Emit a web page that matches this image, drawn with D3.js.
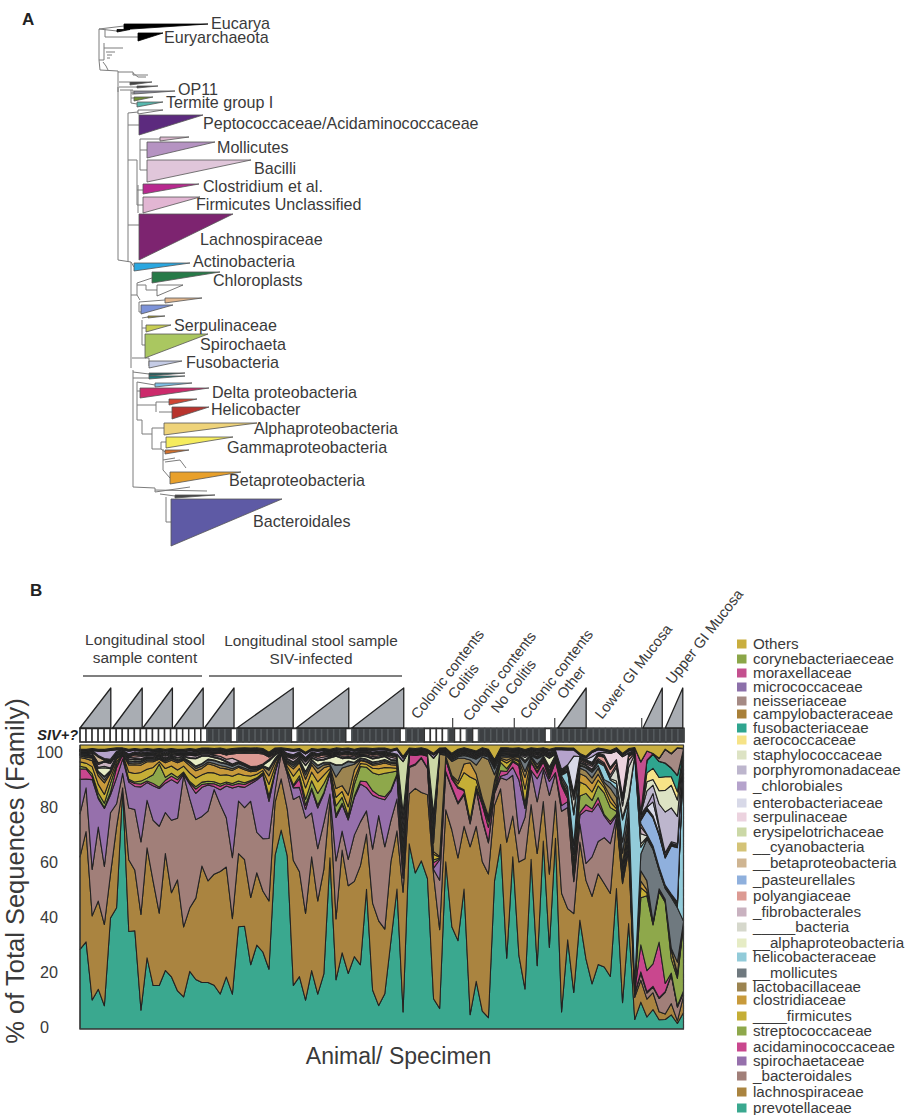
<!DOCTYPE html>
<html><head><meta charset="utf-8">
<style>html,body{margin:0;padding:0;background:#fff}svg{display:block}text{font-family:"Liberation Sans",Arial,sans-serif;fill:#3a3a3a}</style>
<script src="https://cdn.jsdelivr.net/npm/d3@7"></script></head><body><script>
// ---------- Panel B data: % of total sequences per sample, bottom of the stack first
const prevotellaceae=[27.6,30,10,14,8,38,42,83,34,34,
6.5,24,15,15,20,18,13,11,20,17,
16,16,15,12,18,12,35,35.5,22,29,
26.5,21,59,70,59,15,18,10,20,12,
19,59,17,26,19,25,22,48,13,8,
12,30,48,6,63,53.5,59,52,11,7,
58,37,31,49,5,16,6.5,4,51,66.5,
25,63.5,26,13.5,62,22,66.5,29,69,6,
30,12,39,25,16,22,23,19,51,9.5,
29,3,8,4,7,3.5,3.5,5,2,5];
const lachnospiraceae=[32,38,29,31,28,15,28,.3,25,21,
33,37,36,25,40,29,38,24,22,28,
40,35,38,42,38,26,25,23,23,25,
21,24,18,18,16,43,36,30,39,32,
36,20,21,35,30,26,34,19,29,29,
22,27,20,42,17,29,24,29,45,27,
18,35,29,22,59,52,54,51,26,20,
41,15,33,44,20,39,14,26,13.5,42,
10.5,26,28,28,31,31,31,30,25,43,
20,7,6.5,6,6,3,2,4,1,5];
const bacteroidales=[15,15,16,26,20,21,8,5,18,21,
25,16,21,30,14,25,21,52,38,27,
17,24,29,23,17,21,18,18,33,14,
18,22,4,9,12,21,26,33,15,18,
16,2,20,6.5,9,16,15,8,18,36,
28,14,11,5,9,8,12,9,2,17,
13,15,19,11,8,12,15,11,4,4,
22,15,10,14,12,18,11,28,10,29,
34,10.5,6.5,6,14,11,17,18,1,1,
1,1,2,2,2,5,8,10,5,1];
const spirochaetaceae=[12,3,31,10,20,6,9,5,9,8,
19,6,12,13,10,14,12,.3,5,9,
10,9,1,5,11,24,5,7,6,18,
22,13,6,.5,1,4,3,3,8,14,
10,7,15,9,13.5,13,13,8,18,6,
16,10,8,1,.3,.3,.3,.3,.5,7,
.3,.5,.5,.5,.5,.5,.5,.5,.5,.5,
2,3,19,3,.5,8,1,5,.3,2,
2,.5,3,19,16,13,8,7,.5,.5,
.5,.3,.5,.5,.3,.3,.3,.3,.3,.3];
const acidaminococcaceae=[3.5,3.5,1,.5,.3,1,3.5,1.5,.5,1,
1,.5,.8,.5,1,1.2,1.2,.3,.5,1.5,
1,.5,1,1.2,.8,1,1,1,.7,.5,
.5,1.5,.4,.1,.3,.5,3,1.5,.5,1,
.5,.2,1,.5,.5,.5,1,2,1.5,1,
1,.5,.5,2,4,3,1,4,2,.3,
4,3,5,1,.5,.5,5,5,.5,2,
1,2,5,1,3,2,2,1,4,7,
1,.5,1,2,1,2,.5,1,.5,.5,
1,.5,8,7,8,21,3,.5,.3,.3];
const streptococcaceae=[1,.5,1,1.5,1.5,3,1,.1,.5,.5,
1,1,3,8,1,1,.8,.5,.5,.8,
.8,.8,.7,.8,.6,.6,.8,.6,.4,.3,
.2,.5,.2,.05,.2,.5,1,2,2.5,4,
3,.5,3,2,1,4,5,5,6,7,
8,6,1,2,.1,.1,.1,.1,1,.3,
.3,.3,.5,.3,.5,.5,.5,2,.5,3,
1,.5,.5,.5,.3,.5,.5,.5,.5,.5,
1,1,6,4,3,4,8,5,1,1,
2,.5,14,25,14,19,30,5,10,20];
const firmicutes=[1.5,1.5,2.5,3,3,2,1,.1,2.5,3,
3,3,2.5,.8,3,2.5,2.5,2,3,3,
2.5,3,3,3,2.5,2.5,2.5,2.5,1.5,1.2,
.8,4,1.5,.05,1,3,2.5,4,3,4,
3,1,3,2,3,2,1,1,1.5,2,
2,1.5,1,2,.1,.1,.1,.1,2,.3,
.5,.5,1,6,15,2,1,1,2,1,
2,.5,1,5,1,1,.5,1,.5,.5,
.5,2,5,3,3,2,2,2,1,2,
2,.5,3,1,.3,.3,.3,3,1,.3];
const clostridiaceae=[1.5,1.5,2,3,4,1.5,1,.1,2.5,3,
2.5,2.5,2,.8,2,2,2.5,2,2.5,2.5,
2.2,3,2.5,2.5,2,2,2.2,2,1.5,1.2,
1,3,1.5,.05,1,2.5,2,3,2.5,3,
2.5,1,3,2,4,3,1,.8,1,1.5,
1.5,1,1,2,.1,.1,.1,.1,1,.3,
.5,.5,1,3,5,2,1,1,1,.5,
1,.5,.5,4,.5,.5,.5,.5,.5,.5,
.5,2,3,3,3,2,1,2,1,2,
2,.5,2,1,.3,.3,.3,.3,1,.3];
const lactobacillaceae=[.5,.5,1,1,1,.5,.3,.1,.5,.7,
.7,.5,.5,.3,.5,.5,.5,.4,.8,.8,
.8,.6,.7,.8,.7,.6,.5,.5,.4,.4,
.3,2,.8,.05,.5,.8,.5,1.5,.8,1.5,
1,.5,4,6,10,2,.3,.3,.4,.5,
.5,.5,.5,2,.1,.1,.1,.1,3,35,
.3,5,8,2,1,3,15,20,2,.5,
1,.3,1,2,.3,1,.3,1,.3,1,
1,3,2,2,2,2,1,3,3,4,
2,.5,3,3,.5,.5,.5,.5,4,.3];
const mollicutes=[.2,.2,.3,.5,1,.3,.2,.1,.5,.5,
.5,.5,.4,.3,.4,.4,.4,.3,.5,.6,
.7,.8,1,1,1,.8,.8,.8,.5,.3,
.2,.5,.3,.05,.3,.6,.5,1,.8,1,
.7,.5,4,1,1.5,.5,.5,.5,.5,.5,
.5,.3,.3,3,.1,.1,.1,.1,3,.3,
.3,.5,.5,1,1,2,.5,1,2,.5,
.5,.3,.5,3,.3,2,.3,1,.3,1,
1,3,1,1,2,1,1,2,3,4,
3,.5,5,14,26,7,4,18,20,.3];
const helicobacteraceae=[.2,.2,.2,.2,.2,.2,.2,.1,.2,.2,
.2,.2,.2,.2,.2,.2,.2,.2,.2,.2,
.2,.2,.2,.2,.2,.2,.2,.2,.2,.2,
.2,.2,.2,.05,.2,.2,.2,.2,.2,.2,
.2,.2,.2,.2,.2,.2,.2,.2,.2,.2,
.2,.2,.2,.2,.1,.1,.1,.1,.2,.1,
.2,.2,.2,.2,.2,.2,.2,.2,.2,.2,
.2,.2,.2,.2,.2,.2,.2,.2,.2,.2,
5,10,.3,.3,.3,1,5,1,2,8,
.5,72,2,.3,.2,.2,.2,.2,.3,50];
const alphaproteobacteria=[0,.2,.3,1,3,.5,.2,.1,.5,.5,
.5,.3,.3,.3,.3,.2,.5,.3,1,2.5,
2.5,1,.8,1,.5,.3,.2,.2,.2,.2,
.1,2.5,1,.05,.5,.5,.5,2,.5,1.5,
.8,1.5,3,2,1,1,.5,.8,1,1,
1,.5,.5,3,.1,.1,.1,.1,2,.1,
.1,.3,.3,.3,.3,.3,.3,.3,.5,.3,
.3,.3,.3,.5,.3,.3,.3,3,.3,.3,
.3,1,.5,.5,.5,.5,.5,.5,1,1,
1,.3,1,.3,.2,.2,.2,.2,.5,.2];
const bacteria=[.3,.3,.3,.3,.5,.3,.3,.1,.3,.3,
.3,.3,.3,.3,.3,.3,.3,.3,.3,.3,
.3,.3,.3,.3,.3,.3,.3,.3,.3,.3,
.3,.3,.3,.05,.3,.3,.3,.3,.3,.3,
.3,.3,.3,.3,.3,.3,.3,.3,.3,.3,
.3,.3,.3,2,.1,.1,.1,.1,2,.1,
.2,.2,.2,.2,.2,.2,.2,.2,.3,.2,
.2,.2,.2,1,.2,.3,.2,.3,.2,.3,
.3,4,.3,.3,.3,.3,.3,.3,5,4,
8,.3,3,.5,.5,.5,.5,.5,.5,.2];
const fibrobacterales=[0,.2,.5,1,1.5,1.5,.3,.1,.5,.5,
.8,.3,.4,.3,.6,.4,.6,.3,.8,.7,
.5,.5,.5,.7,.6,2,.3,.2,.2,.2,
.1,.3,.2,.05,.5,1,.4,1,.5,.6,
.7,.4,.4,.5,.5,.5,.3,.3,.5,.5,
.3,.8,.5,2,.1,.1,.1,.1,2,.1,
.1,.1,.3,.3,.3,.3,.3,.3,.3,.3,
.3,.3,.3,.5,.3,.5,.3,.5,.3,.3,
.5,1,.5,.5,1,.5,.5,1,1,2,
2,.3,2,.3,.2,.2,.2,.2,.5,.2];
const polyangiaceae=[0,0,0,.5,.2,.5,.2,.1,.3,.8,
.3,.2,.1,.1,.1,.1,.1,.1,.2,.3,
.2,.2,.5,1,1.5,1.5,2.5,3.5,4.5,4.5,
3.5,.8,.3,.05,.2,.5,.3,.5,.3,.6,
.8,.3,.2,.5,.5,.5,.3,.5,.5,.5,
.3,.5,.5,1,.1,.1,.1,.1,1,.1,
.1,.1,.1,.1,.2,.2,.2,.2,.2,.2,
.2,.2,.2,.3,.2,.3,.2,.3,.2,.2,
.3,.5,.5,.5,.5,1,2,2,1,1,
1,.2,1,.2,.1,.1,.1,.1,.3,.1];
const pasteurellales=[.1,.1,.1,.1,.1,.1,.1,.05,.1,.1,
.1,.1,.1,.1,.1,.1,.1,.1,.1,.1,
.1,.1,.1,.1,.1,.1,.1,.1,.1,.1,
.1,.1,.1,.05,.1,.1,.1,.1,.1,.1,
.1,.1,.1,.1,.1,.1,.1,.1,.1,.1,
.1,.1,.1,.1,.1,.1,.1,.1,.1,.1,
.1,.1,.1,.1,.1,.1,.1,.1,.1,.1,
.1,.1,.1,.1,.1,.1,.1,.1,.1,.1,
.1,.1,.1,.1,.1,.1,.1,.1,.1,.1,
.1,.1,1,8,10,12,10,17,20,.3];
const betaproteobacteria=[.3,.3,.3,2,.3,.3,.3,.1,.3,.3,
.3,.3,.3,.3,.3,.3,.3,.3,.3,.3,
.3,.3,.3,.3,.3,.3,.3,.3,.3,.3,
.3,.3,.3,.05,.3,.3,.3,.3,.3,.3,
.3,.3,.3,.3,.3,.3,.3,.3,.3,.3,
.3,.3,.3,.3,.1,.1,.1,.1,.3,.1,
.2,.2,.2,.2,.2,.2,.2,.2,.3,.2,
.2,.2,.2,.3,.2,.3,.2,.3,.2,.3,
.3,.3,.3,.3,.3,.3,.3,.3,.3,.3,
.3,.2,.3,.3,.3,.3,.3,.3,.3,.2];
const cyanobacteria=[.3,.3,.3,.3,.3,.3,.3,.1,.3,.3,
.3,.3,.3,.3,.3,.3,.3,.3,.3,.3,
.3,.3,.3,.3,.3,.3,.3,.3,.3,.3,
.3,.3,.3,.05,.3,.3,.3,.3,.3,.3,
.3,.3,.3,.3,.3,.3,.3,.3,.3,.3,
.3,.3,.3,.3,.1,.1,.1,.1,.3,.1,
.2,.2,.2,.2,.2,.2,.2,.2,.3,.2,
.2,.2,.2,.3,.2,.3,.2,.3,.2,.3,
.3,.3,.3,.3,.3,.3,.3,.3,.3,.3,
.3,.2,.3,.3,.3,.3,.3,.3,.3,.2];
const erysipelotrichaceae=[.1,.1,.1,.1,.1,.1,.1,.1,.1,.1,
.1,.1,.1,.1,.1,.1,.1,.1,.1,.1,
.1,.1,.1,.1,.1,.1,.1,.1,.1,.1,
.1,.1,.1,.05,.1,.1,.1,.1,.1,.1,
.1,.1,.1,.1,.1,.1,.1,.1,.1,.1,
.1,.1,.1,18,.1,.1,.1,.1,20,.1,
.1,.1,.1,.1,.1,.1,.1,.1,.1,.1,
.1,.1,.1,.1,.1,.1,.1,.1,.1,.1,
.1,.1,.1,.1,.1,.1,.1,.1,.1,.1,
.1,.1,.1,.1,.1,.1,.1,.1,.1,.1];
const serpulinaceae=[.1,.1,.1,.1,.1,.1,.1,.1,.1,.1,
.1,.1,.1,.1,.1,.1,.1,.1,.1,.1,
.1,.1,.1,.1,.1,.1,.1,.1,.1,.1,
.1,.1,.1,.05,.1,.1,.1,.1,.1,.1,
.1,.1,.1,.1,.1,.1,.1,.1,.1,.1,
.1,.1,.1,.1,.1,.1,.1,.1,.1,.1,
.1,.1,.1,.1,.1,.1,.1,.1,.1,.1,
.1,.1,.1,.1,.1,.1,.1,.1,.1,.1,
.1,.1,.1,.1,.1,.1,1,5,3,14,
.1,.1,.1,.1,.1,.1,.1,.1,.1,.1];
const enterobacteriaceae=[.1,.1,.1,.1,.1,.1,.1,.1,.1,.1,
.1,.1,.1,.1,.1,.1,.1,.1,.1,.1,
.1,.1,.1,.1,.1,.1,.1,.1,.1,.1,
.1,.1,.1,.05,.1,.1,.1,.1,.1,.1,
.1,.1,.1,.1,.1,.1,.1,.1,.1,.1,
.1,.1,.1,.1,.1,.1,.1,.1,.1,.1,
.1,.1,.1,.1,.1,.1,.1,.1,.1,.1,
.1,.1,.1,.1,.1,.1,.1,.1,.1,.1,
.1,12,.1,.1,2,.1,.1,.1,.1,.1,
.1,.1,.5,.2,5,2,.2,.2,.2,.1];
const chlorobiales=[0,0,0,1.5,2.5,3,.5,.1,1,.5,
.5,.5,.4,.3,.5,.3,.3,.2,.5,.3,
.2,.2,.2,.2,.3,.2,.2,.2,.2,.2,
.2,.1,.1,.05,1,1.2,.5,1.2,.5,.8,
.5,.3,.3,.5,.5,.5,.3,.3,.5,.5,
.4,.5,1.5,1,.1,.1,.1,.1,1,.1,
.1,.1,.1,.1,.1,.1,.1,.1,.1,.1,
.2,.2,.2,.3,.2,.3,.2,.5,.2,7,
5,2,.5,.5,1.5,1,.5,.3,.5,.5,
.5,.2,.5,.5,3,1,1,.5,.5,.2];
const porphyromonadaceae=[.1,.1,.1,.1,.1,.1,.1,.1,.1,.1,
.1,.1,.1,.1,.1,.1,.1,.1,.1,.1,
.1,.1,.1,.1,.1,.1,.1,.1,.1,.1,
.1,.1,.1,.05,.1,.1,.1,.1,.1,.1,
.1,.1,.1,.1,.1,.1,.1,.1,.1,.1,
.1,.1,.1,.1,.1,.1,.1,.1,.1,.1,
.1,.1,.1,.1,.1,.1,.1,.1,.1,.1,
.1,.1,.1,.1,.1,.1,.1,.1,.1,.1,
.1,.1,.1,.1,.1,.1,.1,.1,.1,.1,
.1,.1,.1,5,3,8,15,12,10,.1];
const staphylococcaceae=[.1,.1,.1,.1,.1,.1,.1,.1,.1,.1,
.1,.1,.1,.1,.1,.1,.1,.1,.1,.1,
.1,.1,.1,.1,.1,.1,.1,.1,.1,.1,
.1,.1,.1,.05,.1,.1,.1,.1,.1,.1,
.1,.1,.1,.1,.1,.1,.1,.1,.1,.1,
.1,.1,.1,.1,.1,.1,.1,.1,.1,.1,
.1,.1,.1,.1,.1,.1,.1,.1,.1,.1,
.1,.1,.1,.1,.1,.1,.1,.1,.1,.1,
.1,.1,.1,.1,.1,.1,.1,.1,.1,.1,
.1,.1,.1,3,2,5,8,8,6,.1];
const aerococcaceae=[.05,.05,.05,.05,.05,.05,.05,.05,.05,.05,
.05,.05,.05,.05,.05,.05,.05,.05,.05,.05,
.05,.05,.05,.05,.05,.05,.05,.05,.05,.05,
.05,.05,.05,.05,.05,.05,.05,.05,.05,.05,
.05,.05,.05,.05,.05,.05,.05,.05,.05,.05,
.05,.05,.05,.05,.05,.05,.05,.05,.05,.05,
.05,.05,.05,.05,.05,.05,.05,.05,.05,.05,
.05,.05,.05,.05,.05,.05,.05,.05,.05,.05,
.05,.05,.05,.05,.05,.05,.05,.05,.05,.05,
.05,.05,.05,3,4,5,5,3,3,.05];
const fusobacteriaceae=[.05,.05,.05,.05,.05,.05,.05,.05,.05,.05,
.05,.05,.05,.05,.05,.05,.05,.05,.05,.05,
.05,.05,.05,.05,.05,.05,.05,.05,.05,.05,
.05,.05,.05,.05,.05,.05,.05,.05,.05,.05,
.05,.05,.05,.05,.05,.05,.05,.05,.05,.05,
.05,.05,.05,.05,.05,.05,.05,.05,.05,.05,
.05,.05,.05,.05,.05,.05,.05,.05,.05,.05,
.05,.05,.05,.05,.05,.05,.05,.05,.05,.05,
.05,.05,.05,.05,.05,.05,.05,.05,.05,.05,
.05,.05,.05,4,5,6,5,3,6,.05];
const campylobacteraceae=[.1,.1,.1,.1,.1,.1,.1,.1,.1,.1,
.1,.1,.1,.1,.1,.1,.1,.1,.1,.1,
.1,.1,.1,.1,.1,.1,.1,.1,.1,.1,
.1,.1,.1,.05,.1,.1,.1,.1,.1,.1,
.1,.1,.1,.1,.1,.1,.1,.1,.1,.1,
.1,.1,.1,.1,.1,.1,.1,.1,.1,.1,
.1,.1,.1,.1,.1,.1,.1,.1,.1,.1,
.1,.1,.1,.1,.1,.1,.1,.1,.1,.1,
.1,.1,.1,.1,.1,.1,.1,.1,.1,.1,
.1,.1,.1,.1,.1,.1,.1,.1,.1,.1];
const neisseriaceae=[.1,.1,.1,.1,.1,.1,.1,.1,.1,.1,
.1,.1,.1,.1,.1,.1,.1,.1,.1,.1,
.1,.1,.1,.1,.1,.1,.1,.1,.1,.1,
.1,.1,.1,.05,.1,.1,.1,.1,.1,.1,
.1,.1,.1,.1,.1,.1,.1,.1,.1,.1,
.1,.1,.1,.1,.1,.1,.1,.1,.1,.1,
.1,.1,.1,.1,.1,.1,.1,.1,.1,.1,
.1,.1,.1,.1,.1,.1,.1,.1,.1,.1,
.1,.1,.1,.1,.1,.1,.1,.1,.1,.1,
.1,.1,.1,.1,.1,1,5,5,10,.1];
const micrococcaceae=[.05,.05,.05,.05,.05,.05,.05,.05,.05,.05,
.05,.05,.05,.05,.05,.05,.05,.05,.05,.05,
.05,.05,.05,.05,.05,.05,.05,.05,.05,.05,
.05,.05,.05,.05,.05,.05,.05,.05,.05,.05,
.05,.05,.05,.05,.05,.05,.05,.05,.05,.05,
.05,.05,.05,.05,.05,.05,.05,.05,.05,.05,
.05,.05,.05,.05,.05,.05,.05,.05,.05,.05,
.05,.05,.05,.05,.05,.05,.05,.05,.05,.05,
.05,.05,.05,.05,.05,.05,.05,.05,.05,.05,
.05,.05,.05,.05,.05,.05,.05,.05,.05,.05];
const moraxellaceae=[.05,.05,.05,.05,.05,.05,.05,.05,.05,.05,
.05,.05,.05,.05,.05,.05,.05,.05,.05,.05,
.05,.05,.05,.05,.05,.05,.05,.05,.05,.05,
.05,.05,.05,.05,.05,.05,.05,.05,.05,.05,
.05,.05,.05,.05,.05,.05,.05,.05,.05,.05,
.05,.05,.05,.05,.05,.05,.05,.05,.05,.05,
.05,.05,.05,.05,.05,.05,.05,.05,.05,.05,
.05,.05,.05,.05,.05,.05,.05,.05,.05,.05,
.05,.05,.05,.05,.05,.05,.05,.05,.05,.05,
.05,.05,15,3,.05,.05,.05,.05,.05,.05];
const corynebacteriaceae=[.05,.05,.05,.05,.05,.05,.05,.05,.05,.05,
.05,.05,.05,.05,.05,.05,.05,.05,.05,.05,
.05,.05,.05,.05,.05,.05,.05,.05,.05,.05,
.05,.05,.05,.05,.05,.05,.05,.05,.05,.05,
.05,.05,.05,.05,.05,.05,.05,.05,.05,.05,
.05,.05,.05,.05,.05,.05,.05,.05,.05,.05,
.05,.05,.05,.05,.05,.05,.05,.05,.05,.05,
.05,.05,.05,.05,.05,.05,.05,.05,.05,.05,
.05,.05,.05,.05,.05,.05,.05,.05,.05,.05,
.05,.05,.05,.05,.05,.05,.05,.05,.05,.05];
const others=[1.5,1.5,1.2,1.5,1.5,1.2,1,1,1.5,1.2,
1.5,1.2,1.5,1.2,1.5,1.2,1.5,1.5,1.2,1.5,
1,1,1.2,1,1.5,1.2,1,1,1,1,
1.2,2.5,1,1,1.2,1.5,1.2,2.5,1.2,1.5,
1.2,1.5,1,1.2,1,1.5,1,1,1.2,1,
1,1.5,1,4,1,1.2,1,1.5,3,1,
1,3,1.5,1,1.5,2,1,1.5,5,1,
1,1.2,1,1.5,1,1.2,1,1.5,1,1,
1,1,3,4,2,1,1.5,2,1,3,
1,.8,5,2,3,5,1.5,3,1,1];

// legend labels, top of the legend first; each pairs with a values array and colour
const familyLabels=["Others","corynebacteriaeceae","moraxellaceae","micrococcaceae","neisseriaceae","campylobacteraceae","fusobacteriaceae","aerococcaceae","staphylococcaceae","porphyromonadaceae","_chlorobiales","enterobacteriaceae","serpulinaceae","erysipelotrichaceae","__cyanobacteria","__betaproteobacteria","_pasteurellales","polyangiaceae","_fibrobacterales","_____bacteria","__alphaproteobacteria","helicobacteraceae","__mollicutes","lactobacillaceae","clostridiaceae","____firmicutes","streptococcaceae","acidaminococcaceae","spirochaetaceae","_bacteroidales","lachnospiraceae","prevotellaceae"];
const familyValues=[others,corynebacteriaceae,moraxellaceae,micrococcaceae,neisseriaceae,campylobacteraceae,fusobacteriaceae,aerococcaceae,staphylococcaceae,porphyromonadaceae,chlorobiales,enterobacteriaceae,serpulinaceae,erysipelotrichaceae,cyanobacteria,betaproteobacteria,pasteurellales,polyangiaceae,fibrobacterales,bacteria,alphaproteobacteria,helicobacteraceae,mollicutes,lactobacillaceae,clostridiaceae,firmicutes,streptococcaceae,acidaminococcaceae,spirochaetaceae,bacteroidales,lachnospiraceae,prevotellaceae];
const familyColors=["#c9ae3e","#8ba648","#c4508f","#8c70aa","#a58a84","#a98039","#2fa58f","#f6e387","#dde3c4","#bdb6cd","#b5a3cc","#d8d9e8","#ecd3df","#cbd8a6","#d4c377","#cfb592","#8fb0dd","#dc9a93","#c9b2c0","#d6d8cc","#e6ecc5","#92cbd9","#6f797f","#9c8450","#c89a3b","#c5ae36","#8ea84b","#c9478e","#9670ac","#a17f79","#aa8440","#3aa88f"];
const legendRows=[644,659,673,687,701,714,728,740,755,770,786,803,817,832,847,863,880,896,912,927,943,957,973,987,1000,1016,1031,1047,1061,1076,1092,1108];

// specimen strip
const sivPositive=[21,22,23,24,26,27,28,29,30,31,32,33,34,36,37,38,39,40,41,42,43,45,46,47,48,49,50,51,52,54,55,56,61,64,66,67,68,69,70,71,72,73,74,75,76,78,79,80,81,82,83,84,85,86,87,88,89,90,91,92,93,94,95,96,97,98,99];
const sampleGroups=[[0,5.1],[5.4,10.3],[10.4,15.3],[15.5,20.4],[20.6,25.5],[26,35.3],[35.8,44.5],[45,53.6],[79.1,83.8],[93.2,96.4],[96.9,99.8]];
const groupTicks=[61.7,71.9,78.6,93];
const yTickValues=[0,20,40,60,80,100];

// ---------- Panel A data: collapsed clades
const cladeNames=["Eucarya","","Euryarchaeota","OP11","","Termite group I","","","","Peptococcaceae/Acidaminococcaceae","","Mollicutes","Bacilli","Clostridium et al.","Firmicutes Unclassified","Lachnospiraceae","Actinobacteria","Chloroplasts","","","","","Serpulinaceae","Spirochaeta","Fusobacteria","","","","Delta proteobacteria","","Helicobacter","Alphaproteobacteria","Gammaproteobacteria","","Betaproteobacteria","","Bacteroidales"];
const cladeStart=[34,27,48,44,44,47,40,47,48,49,70,57,57,53,53,49,44,62,67,75,51,58,56,55,59,59,59,65,50,79,82,74,76,75,80,85,81];
const cladeTip=[118,40,73,85,63,73,62,68,73,113,99,125,161,109,110,143,100,130,93,112,83,75,81,118,92,95,95,102,119,107,119,167,143,99,151,125,192];
const cladeTop=[24,29.5,33,91,97,102,82,86,110,115,137,142,160,184,197,214,263,272,285,298,305,316,325,334,361,373,376,383,388,399,407,423,437,450,472,495,499];
const cladeBottom=[29.5,32,41,94,101,107,85,88,114,135,141,158,182,194,213,260,271,283,296,303,314,318,332,358,368,376,379,387,398,405,419,435,448,454,484,498,546];
const cladeFill=["#000","#111","#000","#8b8b9c","#6f8f2f","#56b8ae","#444","#444","#fff","#5c2a7e","#dcb9cf","#b593c2","#e0c6da","#b8298f","#e2b6d3","#7d2470","#2aa7e0","#277a48","#fff","#e3b88f","#7d93d9","#a59a2f","#c7cd52","#aac760","#c5cce6","#2a5f5f","#1c7c7c","#7fc0e6","#cc2a6b","#cf4433","#b8342e","#eed37a","#f5ec5e","#d4702a","#e8a02b","#444","#5e5aa5"];
const cladeLabelDist=[121,0,74,88,0,76,0,0,0,113,0,127,164,113,106,110,103,123,0,0,0,0,84,110,96,0,0,0,122,0,121,164,137,0,139,0,163];
const cladeLabelPos=[23,0,37,89,0,102.5,0,0,0,123,0,147,168,186,204,239,261,280,0,0,0,0,325.5,344,362,0,0,0,392,0,409.5,428,447,0,480,0,521];
const treeBranches=[
[[9,60],[9,29],[34,26]],[[9,29],[27,31]],[[15,29],[15,37],[48,37]],
[[14,43],[14,60],[9,60]],[[14,48],[33,48]],[[16,52],[25,52]],[[17,55],[22,55]],[[17,58],[20,58]],[[13,62],[16,66],[18,70]],
[[9,60],[10,70],[28,71],[28,92]],[[28,72],[43,72],[43,75],[58,75]],[[43,73],[48,77],[56,77]],[[29,82],[40,82]],[[29,87],[47,87]],
[[28,87],[28,260],[41,262]],[[30,90],[43,90],[43,95]],[[41,93],[44,93]],[[41,90],[41,103],[47,104]],[[41,98],[44,98]],
[[38,113],[38,262]],[[38,113],[48,112]],[[38,125],[49,125]],[[50,139],[50,170],[57,170]],[[50,150],[57,150]],[[50,139],[70,139]],[[38,160],[47,160],[47,205],[53,205]],[[47,190],[53,190]],[[48,185],[48,213]],[[38,225],[49,225]],
[[41,262],[44,267]],[[41,262],[41,368]],[[41,295],[47,295],[47,283],[62,278]],[[47,285],[56,285],[56,290],[67,290]],[[47,295],[50,300]],[[49,302],[75,300]],[[49,302],[49,312],[51,312]],[[52,320],[52,345],[55,345]],[[52,328],[56,328]],[[52,318],[58,317]],
[[42,358],[59,358],[59,366]],[[43,370],[43,487]],[[43,372],[59,374]],[[43,378],[59,378]],[[47,382],[65,385]],[[47,382],[47,420]],[[47,391],[50,391]],[[47,405],[66,405]],[[66,402],[79,402]],[[66,402],[66,412]],[[69,412],[82,412]],
[[47,420],[52,420],[52,434],[62,434],[62,428],[74,428]],[[62,434],[62,449],[71,449],[71,442],[76,442]],[[71,449],[75,452]],[[73,449],[73,470],[80,478]],[[73,460],[85,458]],[[75,462],[90,460],[96,468]],
[[43,487],[65,488]],[[65,488],[65,492],[100,487]],[[65,490],[117,491]],[[70,494],[85,496]],[[76,497],[76,522],[81,522]]];

// ---------- Drawing
const width=907,height=1115;
const svg=d3.select("body").append("svg").attr("width",width).attr("height",height);

svg.append("text").attr("x",22).attr("y",25).attr("font-size",17).attr("font-weight","bold").style("fill","#222").text("A");
svg.append("text").attr("x",30).attr("y",596).attr("font-size",17).attr("font-weight","bold").style("fill","#222").text("B");

// Panel A
const treeX=d3.scaleLinear().domain([0,400]).range([90,490]);
const treeY=d3.scaleLinear().domain([0,550]).range([0,550]);
const treeLine=d3.line().x(d=>treeX(d[0])).y(d=>treeY(d[1]));
const panelA=svg.append("g");
panelA.selectAll("path.branch").data(treeBranches).join("path").attr("class","branch")
  .attr("d",treeLine).attr("fill","none").attr("stroke","#7c7c7c").attr("stroke-width",1);
const cladeData=cladeNames.map((n,i)=>({n,i}));
panelA.selectAll("path.clade").data(cladeData).join("path").attr("class","clade")
  .attr("d",d=>treeLine([[cladeStart[d.i],cladeTop[d.i]],[cladeTip[d.i],cladeTop[d.i]],[cladeStart[d.i],cladeBottom[d.i]]])+"Z")
  .attr("fill",d=>cladeFill[d.i]).attr("stroke",d=>d.i<3?"#000":"#555").attr("stroke-width",.8);
panelA.selectAll("text").data(cladeData.filter(d=>d.n)).join("text")
  .attr("x",d=>treeX(cladeLabelDist[d.i])).attr("y",d=>treeY(cladeLabelPos[d.i])).attr("dy",".36em")
  .attr("font-size",16.1).text(d=>d.n);

// Panel B stack
const samples=d3.range(100);
const seriesKeys=familyLabels.slice().reverse();
const table=samples.map(i=>{const r={};familyLabels.forEach((k,j)=>r[k]=familyValues[j][i]);return r;});
const stacked=d3.stack().keys(seriesKeys).offset(d3.stackOffsetExpand)(table);
const x=d3.scaleLinear().domain([0,99]).range([80,683.5]);
const y=d3.scaleLinear().domain([0,1]).range([1029,745]);
const color=d3.scaleOrdinal().domain(familyLabels).range(familyColors);
const area=d3.area().x((d,i)=>x(i)).y0(d=>y(d[0])).y1(d=>y(d[1]));
const panelB=svg.append("g");
panelB.selectAll("path").data(stacked).join("path")
  .attr("d",area).attr("fill",d=>color(d.key)).attr("stroke","#222").attr("stroke-width",1.05).attr("stroke-linejoin","round");
panelB.append("path").attr("d",`M${x(0)},${y(1)}V${y(0)}H${x(99)}V${y(1)}`).attr("fill","none").attr("stroke","#3a3a3a").attr("stroke-width",1.2);

// strip of samples
const cell=d3.scaleBand().domain(samples).range([80,684]);
const darkSet=new Set(sivPositive);
svg.append("g").selectAll("rect").data(samples).join("rect")
  .attr("x",d=>cell(d)).attr("y",728.5).attr("width",cell.bandwidth()).attr("height",13.5)
  .attr("fill",d=>darkSet.has(d)?"#3d4043":"#fff").attr("stroke",d=>darkSet.has(d)?"#555a5d":"#333").attr("stroke-width",1.5);
svg.append("rect").attr("x",80).attr("y",728).attr("width",604).attr("height",14).attr("fill","none").attr("stroke","#333").attr("stroke-width",1);

// group wedges
const edge=d3.scaleLinear().domain([0,100]).range([80,684]);
svg.append("g").selectAll("path").data(sampleGroups).join("path")
  .attr("d",d=>`M${edge(d[0])},728L${edge(d[1])},688V728Z`)
  .attr("fill","#a9adb3").attr("stroke","#222").attr("stroke-width",1.3).attr("stroke-linejoin","round");
svg.append("g").selectAll("line").data(groupTicks).join("line")
  .attr("x1",d=>edge(d)).attr("x2",d=>edge(d)).attr("y1",718).attr("y2",728).attr("stroke","#444").attr("stroke-width",1.2);

svg.append("text").attr("x",78).attr("y",740).attr("text-anchor","end").attr("font-size",14.5).attr("font-weight","bold").attr("font-style","italic").style("fill","#222").text("SIV+?");

// header labels
const header=[["Longitudinal stool",145,645],["sample content",145,663],["Longitudinal stool sample",311,646],["SIV-infected",311,664]];
svg.append("g").selectAll("text").data(header).join("text").attr("x",d=>d[1]).attr("y",d=>d[2]).attr("text-anchor","middle").attr("font-size",15.4).text(d=>d[0]);
svg.append("g").selectAll("line").data([[83,202],[209,402]]).join("line").attr("x1",d=>d[0]).attr("x2",d=>d[1]).attr("y1",676).attr("y2",676).attr("stroke","#555").attr("stroke-width",1.6);
const rotated=[["Colonic contents",418,720],["Colitis",455,700],["Colonic contents",470,722],["No Colitis",498,714],["Colonic contents",527,720],["Other",564,700],["Lower GI Mucosa",602,720],["Upper GI Mucosa",673,685]];
svg.append("g").selectAll("text").data(rotated).join("text")
  .attr("transform",d=>`translate(${d[1]},${d[2]}) rotate(-52)`).attr("font-size",14.7).text(d=>d[0]);

// y axis
const yLabels=d3.scaleLinear().domain([0,100]).range([1027,752]);
const axis=svg.append("g").attr("transform","translate(60,0)").call(d3.axisLeft(yLabels).tickValues(yTickValues).tickSize(0).tickFormat(d3.format("d")));
axis.select(".domain").remove();
axis.selectAll("text").attr("x",d=>d===100?-24:-20).attr("text-anchor","start").attr("font-size",16.2).attr("font-family",'"Liberation Sans",Arial,sans-serif').attr("dy",".36em").style("fill","#3a3a3a");
svg.append("text").attr("transform","translate(24,871) rotate(-90)").attr("text-anchor","middle").attr("font-size",25.5).text("% of Total Sequences (Family)");
svg.append("text").attr("x",398.5).attr("y",1064).attr("text-anchor","middle").attr("font-size",23).text("Animal/ Specimen");

// legend
const legend=svg.append("g").selectAll("g").data(familyLabels).join("g").attr("transform",(d,i)=>`translate(737,${legendRows[i]})`);
legend.append("rect").attr("y",-4.5).attr("width",9.5).attr("height",9).attr("fill",d=>color(d));
legend.append("text").attr("x",16).attr("dy",".36em").attr("font-size",15.2).text(d=>d);
</script></body></html>
